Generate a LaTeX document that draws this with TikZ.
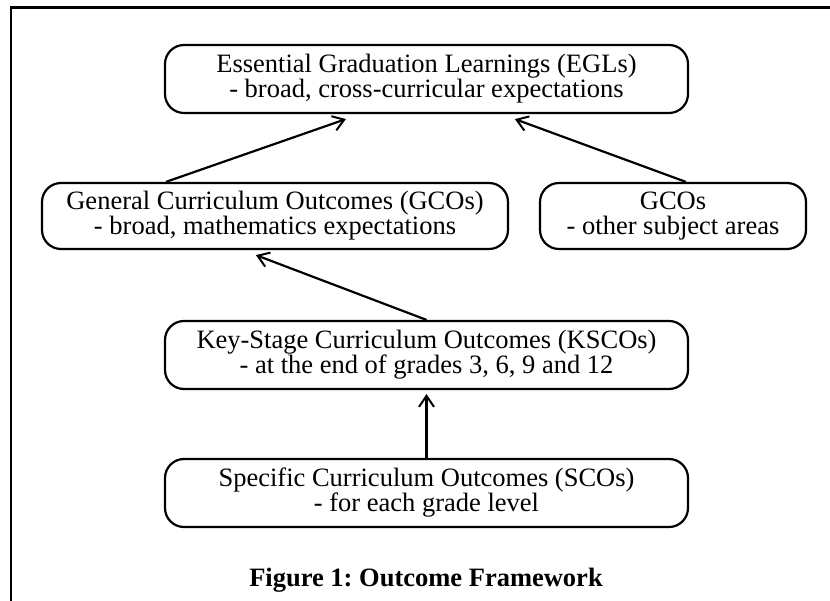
\documentclass[tikz,border=0pt]{standalone}
\usepackage{fontspec}
\setmainfont{Liberation Serif}
\usetikzlibrary{arrows.meta}
\frenchspacing
\begin{document}
\begin{tikzpicture}[x=1pt,y=-1pt,
  outbox/.style={draw, line width=2.2pt, rounded corners=19pt, inner sep=0pt,
    align=center, font=\fontsize{26.5}{25}\selectfont},
  link/.style={line width=2.2pt, -{Straight Barb[length=11pt,width=15pt,line width=2pt]}},
  frameline/.style={line width=2.4pt}]
\useasboundingbox (0,0) rectangle (830,601);
\coordinate (ftr) at (830,7.5);
\coordinate (ftl) at (11,7.5);
\coordinate (fbl) at (11,601);
\draw[frameline] (ftr) -- (ftl) -- (fbl);
\node[outbox, minimum width=523pt, minimum height=68pt] (egl) at (426.5,79)
  {Essential Graduation Learnings (EGLs)\\- broad, cross-curricular expectations};
\node[outbox, minimum width=466pt, minimum height=66pt] (gco) at (275,216)
  {General Curriculum Outcomes (GCOs)\\- broad, mathematics expectations};
\node[outbox, minimum width=266pt, minimum height=66pt] (gcos) at (673,216)
  {GCOs\\- other subject areas};
\node[outbox, minimum width=523pt, minimum height=68pt] (ksco) at (426.5,355)
  {Key-Stage Curriculum Outcomes (KSCOs)\\- at the end of grades 3, 6, 9 and 12};
\node[outbox, minimum width=523pt, minimum height=68pt] (sco) at (426.5,493)
  {Specific Curriculum Outcomes (SCOs)\\- for each grade level};
\node[font=\fontsize{26.5}{26}\selectfont\bfseries, inner sep=0pt] (cap) at (426,580)
  {Figure 1: Outcome Framework};
\draw[link] ([xshift=125pt]gco.north west) -- ([xshift=182pt,yshift=-5pt]egl.south west);
\draw[link] ([xshift=147pt]gcos.north west) -- ([xshift=351pt,yshift=-5pt]egl.south west);
\draw[link] (ksco.north) -- ([xshift=215pt,yshift=-5pt]gco.south west);
\draw[link] (sco.north) -- ([yshift=-4pt]ksco.south);
\end{tikzpicture}
\end{document}
